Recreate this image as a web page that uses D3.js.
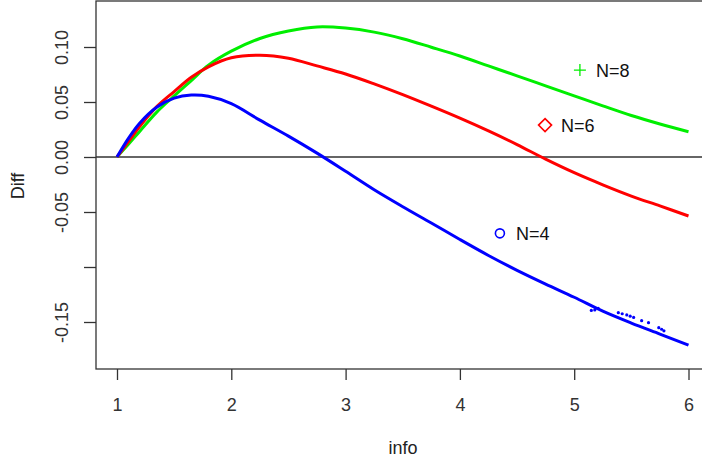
<!DOCTYPE html>
<html lang="en">
<head>
    <meta charset="UTF-8">
    <title>Diff vs info</title>
    <style>
        body {
            margin: 0;
            background-color: #ffffff;
            overflow: hidden;
            font-family: "Liberation Sans", Arial, sans-serif;
        }
        svg {
            display: block;
        }
        .axis text {
            font-family: "Liberation Sans", Arial, sans-serif;
            font-size: 18px;
            fill: #333;
        }
        .axis line {
            stroke: #333;
            stroke-width: 1.3;
        }
        .axis-label {
            font-family: "Liberation Sans", Arial, sans-serif;
            font-size: 18px;
            fill: #222;
        }
        .legend text {
            font-family: "Liberation Sans", Arial, sans-serif;
            font-size: 18px;
            fill: #111;
        }
    </style>
</head>
<body>
    <svg id="chart"></svg>

    <script src="https://d3js.org/d3.v7.min.js"></script>
    <script>
        const info = [1, 1.1, 1.2, 1.35, 1.5, 1.65, 1.8, 2, 2.25, 2.5, 2.75, 3, 3.25,
                      3.5, 3.75, 4, 4.25, 4.5, 4.75, 5, 5.25, 5.5, 5.75, 6];

        // Diff per N
        const diffN8 = [0, 0.0115, 0.0235, 0.041, 0.0555, 0.0695, 0.0835, 0.0962, 0.1077, 0.1145,
                        0.1182, 0.1172, 0.1135, 0.1075, 0.0998, 0.0918, 0.0828, 0.0738, 0.0647,
                        0.0556, 0.0465, 0.0377, 0.030, 0.023];
        const diffN6 = [0, 0.014, 0.028, 0.046, 0.0595, 0.0725, 0.082, 0.0902, 0.0925, 0.0898,
                        0.0828, 0.0755, 0.0665, 0.0567, 0.0462, 0.0353, 0.0237, 0.0113, -0.002,
                        -0.0143, -0.0253, -0.0355, -0.0445, -0.0536];
        const diffN4 = [0, 0.017, 0.031, 0.0455, 0.0535, 0.0563, 0.0552, 0.0485, 0.0335, 0.0190,
                        0.0035, -0.0130, -0.0298, -0.0452, -0.0600, -0.0750, -0.0895, -0.1030, -0.1155,
                        -0.1275, -0.1402, -0.1510, -0.1610, -0.1710];

        // scattered blue points near the tail of N=4
        const strayInfo = [5.15, 5.18, 5.21, 5.386, 5.42, 5.46, 5.49, 5.52, 5.59, 5.65, 5.74, 5.765, 5.785];
        const strayDiff = [-0.1395, -0.139, -0.1376, -0.1415, -0.1425, -0.1436, -0.1447, -0.1458, -0.1488,
                           -0.1506, -0.1552, -0.1566, -0.158];

        // in-plot labels
        const labelText = ["N=8", "N=6", "N=4"];
        const labelInfo = [5.05, 4.745, 4.35];
        const labelDiff = [0.079, 0.029, -0.0694];
        const labelShape = ["plus", "diamond", "circle"];
        const colors = ["#00ee00", "#ff0000", "#0000ff"];

        const xTicks = [1, 2, 3, 4, 5, 6];
        const yTicks = [-0.15, -0.10, -0.05, 0, 0.05, 0.10];
        const yTickLabels = ["-0.15", "", "-0.05", "0.00", "0.05", "0.10"];

        const W = 702, H = 461;
        const box = { left: 96, top: 1, right: 711, bottom: 369 };

        const svg = d3.select("#chart")
            .attr("width", W)
            .attr("height", H);

        const x = d3.scaleLinear().domain([1, 6]).range([117, 688.5]);
        const y = d3.scaleLinear().domain([-0.15, 0.10]).range([322, 47]);

        // box
        svg.append("rect")
            .attr("x", box.left)
            .attr("y", box.top)
            .attr("width", box.right - box.left)
            .attr("height", box.bottom - box.top)
            .attr("fill", "none")
            .attr("stroke", "#333")
            .attr("stroke-width", 1.3);

        // x axis
        const xAxis = svg.append("g")
            .attr("class", "axis")
            .attr("transform", `translate(0,${box.bottom})`)
            .call(d3.axisBottom(x).tickValues(xTicks).tickSize(11).tickPadding(18)
                .tickFormat(d3.format("d")));
        xAxis.select(".domain").remove();

        // y axis, labels rotated like base R
        const yAxis = svg.append("g")
            .attr("class", "axis")
            .attr("transform", `translate(${box.left},0)`)
            .call(d3.axisLeft(y).tickValues(yTicks).tickSize(12)
                .tickFormat((d, i) => yTickLabels[i]));
        yAxis.select(".domain").remove();
        yAxis.selectAll(".tick text")
            .attr("transform", "rotate(-90)")
            .attr("x", 0)
            .attr("y", -34)
            .attr("dy", "0.35em")
            .style("text-anchor", "middle");

        // zero line
        svg.append("line")
            .attr("x1", box.left)
            .attr("x2", box.right)
            .attr("y1", y(0))
            .attr("y2", y(0))
            .attr("stroke", "#333")
            .attr("stroke-width", 1.3);

        // curves
        const line = d3.line()
            .x((d, i) => x(info[i]))
            .y(d => y(d))
            .curve(d3.curveCatmullRom.alpha(0.5));

        [diffN8, diffN6, diffN4].forEach((series, k) => {
            svg.append("path")
                .datum(series)
                .attr("fill", "none")
                .attr("stroke", colors[k])
                .attr("stroke-width", 3)
                .attr("d", line);
        });

        svg.append("g")
            .selectAll("circle")
            .data(strayInfo)
            .join("circle")
            .attr("cx", d => x(d))
            .attr("cy", (d, i) => y(strayDiff[i]))
            .attr("r", 1.6)
            .attr("fill", colors[2]);

        // labels with markers
        const legend = svg.append("g").attr("class", "legend");
        labelText.forEach((t, i) => {
            const cx = x(labelInfo[i]), cy = y(labelDiff[i]);
            if (labelShape[i] === "plus") {
                legend.append("path")
                    .attr("d", `M${cx - 6},${cy}H${cx + 6}M${cx},${cy - 6}V${cy + 6}`)
                    .attr("stroke", colors[i])
                    .attr("stroke-width", 1.3);
            } else if (labelShape[i] === "diamond") {
                legend.append("path")
                    .attr("d", `M${cx},${cy - 6.5}L${cx + 6.5},${cy}L${cx},${cy + 6.5}L${cx - 6.5},${cy}Z`)
                    .attr("fill", "none")
                    .attr("stroke", colors[i])
                    .attr("stroke-width", 1.6);
            } else {
                legend.append("circle")
                    .attr("cx", cx)
                    .attr("cy", cy)
                    .attr("r", 4.5)
                    .attr("fill", "none")
                    .attr("stroke", colors[i])
                    .attr("stroke-width", 1.6);
            }
            legend.append("text")
                .attr("x", cx + 16)
                .attr("y", cy)
                .attr("dy", "0.36em")
                .text(t);
        });

        // axis titles
        svg.append("text")
            .attr("class", "axis-label")
            .attr("x", 403)
            .attr("y", 454)
            .style("text-anchor", "middle")
            .text("info");

        svg.append("text")
            .attr("class", "axis-label")
            .attr("transform", "rotate(-90)")
            .attr("x", -186)
            .attr("y", 24)
            .style("text-anchor", "middle")
            .text("Diff");
    </script>
</body>
</html>
